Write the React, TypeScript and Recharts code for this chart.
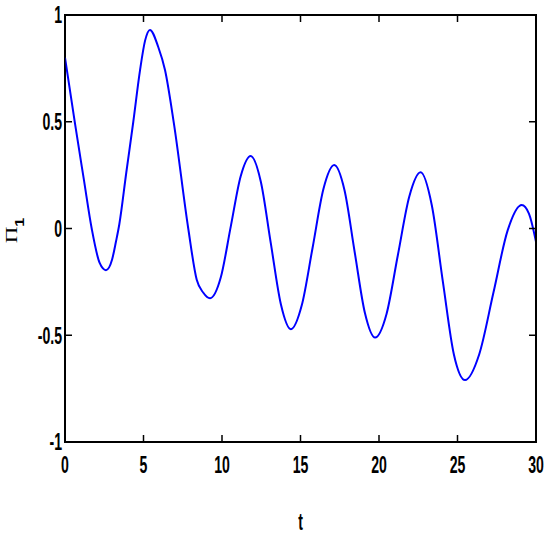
import React from 'react'
import { Label, Line, LineChart, ReferenceArea, XAxis, YAxis } from 'recharts'

// values
const tValues = [
  0, 0.64, 1.2, 1.7, 2.2, 2.61, 3.0, 3.25, 3.46, 3.9, 4.35, 4.78, 5.1, 5.41, 5.94, 6.37, 6.94,
  7.85, 8.39, 8.8, 9.24, 9.92, 10.56, 11.19, 11.83, 12.47, 13.11, 13.75, 14.39, 15.08,
  15.77, 16.46, 17.15, 17.8, 18.45, 19.1, 19.75, 20.48, 21.2, 21.93, 22.65, 23.36,
  24.07, 24.77, 25.48, 26.38, 27.29, 28.19, 29.09, 29.55, 30,
]
const piValues = [
  0.8, 0.49, 0.23, 0.0, -0.16, -0.195, -0.145, -0.06, 0.02, 0.26, 0.5, 0.742, 0.88, 0.93, 0.85, 0.742, 0.49,
  0.0, -0.24, -0.3, -0.327, -0.23, 0.01, 0.245, 0.34, 0.22, -0.07, -0.355, -0.472, -0.36,
  -0.09, 0.185, 0.297, 0.18, -0.11, -0.395, -0.511, -0.4, -0.125, 0.15, 0.263, 0.11,
  -0.25, -0.59, -0.71, -0.59, -0.3, -0.01, 0.11, 0.07, -0.062,
]
const xTicks = [0, 5, 10, 15, 20, 25, 30]
const yTicks = [-1, -0.5, 0, 0.5, 1]

const data = tValues.map((t, i) => ({ t, v: piValues[i] }))

const font = '"Liberation Sans", Arial, sans-serif'
const TICK = 7

// inward ticks drawn by the tick components, labels squeezed horizontally like the original
const BottomTick = (props: any) => {
  const { x, y, payload } = props
  return (
    <g transform={`translate(${x},${y})`}>
      <line x1={0} y1={0} x2={0} y2={-TICK} stroke="#000" strokeWidth={1.5} />
      <text transform="scale(0.6,1)" y={31} textAnchor="middle" fontFamily={font} fontWeight="bold" fontSize={23.5} fill="#000">
        {payload.value}
      </text>
    </g>
  )
}

const LeftTick = (props: any) => {
  const { x, y, payload } = props
  return (
    <g transform={`translate(${x},${y})`}>
      <line x1={0} y1={0} x2={TICK} y2={0} stroke="#000" strokeWidth={1.5} />
      <text transform="scale(0.6,1)" x={-5} y={8.3} textAnchor="end" fontFamily={font} fontWeight="bold" fontSize={23.5} fill="#000">
        {String(payload.value)}
      </text>
    </g>
  )
}

const TopTick = (props: any) => {
  const { x, y } = props
  return <line x1={x} y1={y} x2={x} y2={y + TICK} stroke="#000" strokeWidth={1.5} />
}

const RightTick = (props: any) => {
  const { x, y } = props
  return <line x1={x} y1={y} x2={x - TICK} y2={y} stroke="#000" strokeWidth={1.5} />
}

const App = () => {
  return (
    <div style={{ position: 'absolute', left: 0, top: 0, background: '#fff' }}>
      <LineChart width={550} height={538} data={data} margin={{ top: 14, right: 13, bottom: 0, left: 0 }}>
        <XAxis
          dataKey="t"
          type="number"
          domain={[0, 30]}
          ticks={xTicks}
          allowDataOverflow
          height={96}
          tickSize={0}
          tickMargin={0}
          tickLine={false}
          stroke="#000"
          tick={<BottomTick />}
          interval={0}
        >
          <Label
            content={() => (
              <g transform="translate(300.5,530)">
                <text transform="scale(0.6,1)" textAnchor="middle" fontFamily={font} fontWeight="bold" fontSize={23.5} fill="#000">
                  t
                </text>
              </g>
            )}
          />
        </XAxis>
        <XAxis
          xAxisId="top"
          orientation="top"
          dataKey="t"
          type="number"
          domain={[0, 30]}
          ticks={xTicks}
          allowDataOverflow
          height={1}
          tickSize={0}
          tickMargin={0}
          tickLine={false}
          stroke="#000"
          strokeWidth={2}
          tick={<TopTick />}
          interval={0}
        />
        <YAxis
          type="number"
          domain={[-1, 1]}
          ticks={yTicks}
          allowDataOverflow
          width={65}
          tickSize={0}
          tickMargin={0}
          tickLine={false}
          stroke="#000"
          tick={<LeftTick />}
          interval={0}
        >
          <Label
            content={() => (
              <text
                transform="translate(16.7,243.3) rotate(-90) scale(1,0.75)"
                fontFamily='"Liberation Serif", "Times New Roman", serif'
                fontSize={23}
                fill="#000"
              >
                Π
                <tspan fontFamily={font} fontWeight="bold" fontSize={16} dy={10}>
                  1
                </tspan>
              </text>
            )}
          />
        </YAxis>
        <YAxis
          yAxisId="right"
          orientation="right"
          type="number"
          domain={[-1, 1]}
          ticks={yTicks}
          allowDataOverflow
          width={1}
          tickSize={0}
          tickMargin={0}
          tickLine={false}
          stroke="#000"
          strokeWidth={2}
          tick={<RightTick />}
          interval={0}
        />
        {/* box around the plot area */}
        <ReferenceArea x1={0} x2={30} y1={-1} y2={1} fill="none" stroke="#000" strokeWidth={2} ifOverflow="visible" />
        {/* transparent series so the top and right axes get drawn */}
        <Line xAxisId="top" type="monotone" dataKey="v" stroke="#0000ff" strokeOpacity={0} dot={false} activeDot={false} isAnimationActive={false} />
        <Line yAxisId="right" type="monotone" dataKey="v" stroke="#0000ff" strokeOpacity={0} dot={false} activeDot={false} isAnimationActive={false} />
        <Line
          type="monotone"
          dataKey="v"
          stroke="#0000ff"
          strokeWidth={2}
          dot={false}
          isAnimationActive={false}
        />
      </LineChart>
    </div>
  )
}

export default App
